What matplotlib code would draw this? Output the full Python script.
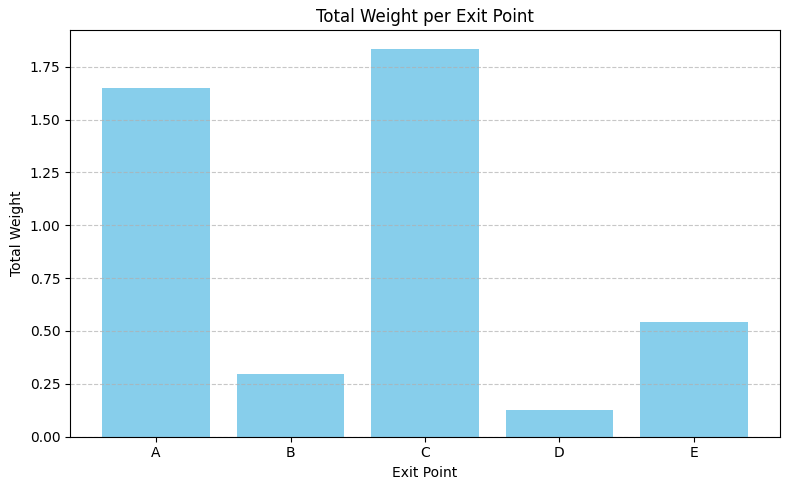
import matplotlib
matplotlib.use("Agg")
import matplotlib.pyplot as plt

# Exit points and their summed weights
exit_points = ["A", "B", "C", "D", "E"]
total_weights = [1.647, 0.296, 1.832, 0.126, 0.543]

fig, ax = plt.subplots(figsize=(7.9, 4.9), dpi=100)
ax.bar(exit_points, total_weights, color="skyblue")
ax.set_title("Total Weight per Exit Point")
ax.set_xlabel("Exit Point")
ax.set_ylabel("Total Weight")
ax.grid(axis="y", linestyle="--", alpha=0.7)
fig.subplots_adjust(left=70 / 790, right=780 / 790, top=1 - 30 / 490, bottom=1 - 436.5 / 490)
plt.savefig("out.png")
